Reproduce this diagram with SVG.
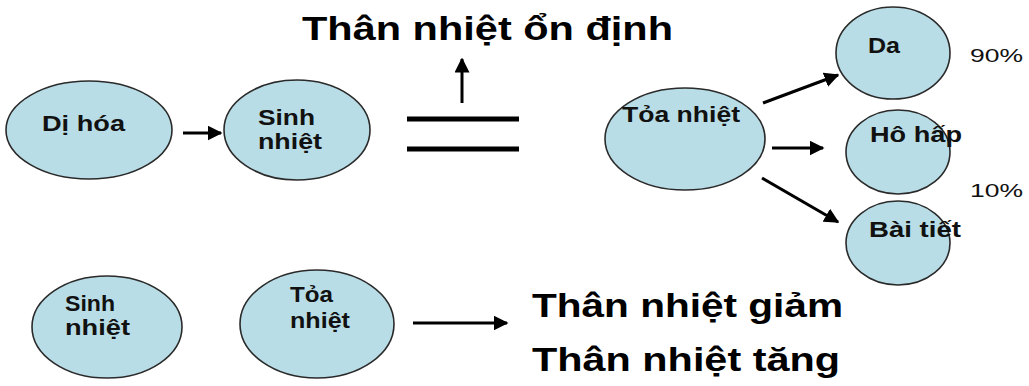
<svg xmlns="http://www.w3.org/2000/svg" width="1029" height="386" viewBox="0 0 1029 386">
  <style>
    .node { fill: #b9dde6; stroke: #2a2a2a; stroke-width: 1.6; }
    .lbl { font-family: "Liberation Sans", Arial, sans-serif; font-weight: bold; font-size: 22px; fill: #111; }
    .pct { font-family: "Liberation Sans", Arial, sans-serif; font-size: 18px; fill: #111; }
    .big { font-family: "Liberation Sans", Arial, sans-serif; font-weight: bold; font-size: 34px; fill: #000; }
    .conn { stroke: #000; stroke-width: 3; fill: none; }
  </style>
  <defs>
    <marker id="head" viewBox="0 0 10 10" refX="9" refY="5" markerWidth="5" markerHeight="5" orient="auto" markerUnits="strokeWidth">
      <path d="M0,0 L10,5 L0,10 z" fill="#000"/>
    </marker>
  </defs>
  <rect width="1029" height="386" fill="#fff"/>

  <!-- headings -->
  <text class="big" x="302" y="40" textLength="371" lengthAdjust="spacingAndGlyphs">Thân nhiệt ổn định</text>
  <text class="big" x="532" y="317" textLength="311" lengthAdjust="spacingAndGlyphs">Thân nhiệt giảm</text>
  <text class="big" x="532" y="371" textLength="308" lengthAdjust="spacingAndGlyphs">Thân nhiệt tăng</text>

  <!-- equality sign -->
  <g id="equals">
    <line x1="407" y1="119" x2="519" y2="119" stroke="#000" stroke-width="5"/>
    <line x1="407" y1="149" x2="519" y2="149" stroke="#000" stroke-width="5"/>
  </g>

  <g id="di-hoa">
    <ellipse class="node" cx="89" cy="130" rx="83" ry="49"/>
    <text class="lbl" x="42" y="131" textLength="83" lengthAdjust="spacingAndGlyphs">Dị hóa</text>
  </g>
  <g id="sinh-nhiet-top">
    <ellipse class="node" cx="297" cy="130" rx="73" ry="50"/>
    <text class="lbl" x="258" y="125" textLength="57" lengthAdjust="spacingAndGlyphs">Sinh</text>
    <text class="lbl" x="258" y="149" textLength="64" lengthAdjust="spacingAndGlyphs">nhiệt</text>
  </g>
  <g id="toa-nhiet-top">
    <ellipse class="node" cx="685" cy="139" rx="80" ry="51"/>
    <text class="lbl" x="622" y="122" textLength="118" lengthAdjust="spacingAndGlyphs">Tỏa nhiệt</text>
  </g>
  <g id="da">
    <ellipse class="node" cx="893" cy="53" rx="57" ry="46"/>
    <text class="lbl" x="868" y="53" textLength="32" lengthAdjust="spacingAndGlyphs">Da</text>
  </g>
  <g id="ho-hap">
    <ellipse class="node" cx="898" cy="152" rx="52" ry="42"/>
    <text class="lbl" x="870" y="142" textLength="92" lengthAdjust="spacingAndGlyphs">Hô hấp</text>
  </g>
  <g id="bai-tiet">
    <ellipse class="node" cx="898" cy="243" rx="52" ry="42"/>
    <text class="lbl" x="869" y="237" textLength="92" lengthAdjust="spacingAndGlyphs">Bài tiết</text>
  </g>
  <text class="pct" x="970" y="62" textLength="53" lengthAdjust="spacingAndGlyphs">90%</text>
  <text class="pct" x="970" y="197" textLength="53" lengthAdjust="spacingAndGlyphs">10%</text>

  <g id="sinh-nhiet-bottom">
    <ellipse class="node" cx="107" cy="327" rx="75" ry="51"/>
    <text class="lbl" x="65" y="311" textLength="50" lengthAdjust="spacingAndGlyphs">Sinh</text>
    <text class="lbl" x="65" y="335" textLength="65" lengthAdjust="spacingAndGlyphs">nhiệt</text>
  </g>
  <g id="toa-nhiet-bottom">
    <ellipse class="node" cx="317" cy="324" rx="77" ry="54"/>
    <text class="lbl" x="290" y="302" textLength="43" lengthAdjust="spacingAndGlyphs">Tỏa</text>
    <text class="lbl" x="290" y="328" textLength="60" lengthAdjust="spacingAndGlyphs">nhiệt</text>
  </g>

  <g id="connectors">
    <line class="conn" x1="183" y1="133" x2="221" y2="133" marker-end="url(#head)"/>
    <line class="conn" x1="462" y1="103" x2="462" y2="59" marker-end="url(#head)"/>
    <line class="conn" x1="763" y1="103" x2="838" y2="75" marker-end="url(#head)"/>
    <line class="conn" x1="772" y1="148" x2="823" y2="148" marker-end="url(#head)"/>
    <line class="conn" x1="762" y1="178" x2="838" y2="222" marker-end="url(#head)"/>
    <line class="conn" x1="413" y1="323" x2="507" y2="323" marker-end="url(#head)"/>
  </g>
</svg>
